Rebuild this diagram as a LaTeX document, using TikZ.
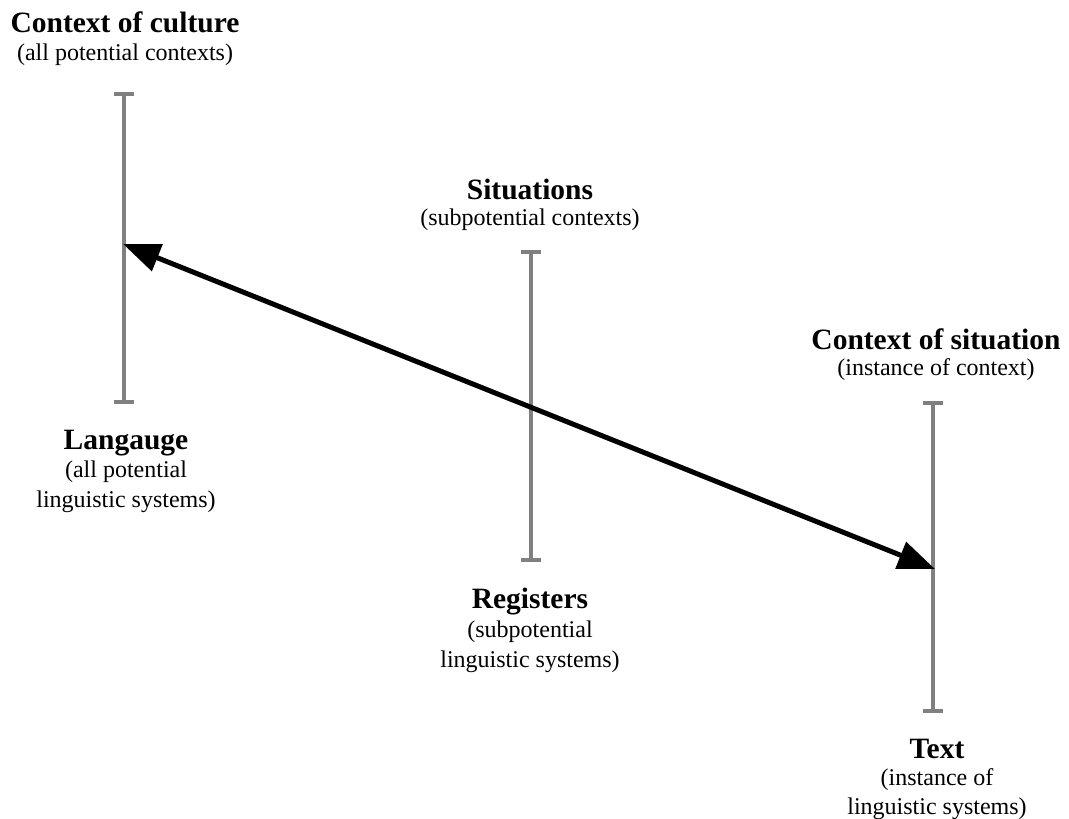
\documentclass[tikz,border=0pt]{standalone}
\usepackage{fontspec}
\setmainfont{Liberation Serif}
\usetikzlibrary{arrows.meta}
\begin{document}
\begin{tikzpicture}[x=1pt,y=-1pt,
  title/.style={font=\fontsize{29.5}{32}\selectfont\bfseries, inner sep=0pt},
  sub/.style={font=\fontsize{24}{29.5}\selectfont, align=center, inner sep=0pt},
  scalebar/.style={draw=black!50, line width=4pt, {Bar[width=20pt,line width=4pt]}-{Bar[width=20pt,line width=4pt]}},
  link/.style={draw=black, line width=5pt, {Triangle[length=37pt,width=28pt]}-{Triangle[length=37pt,width=28pt]}}]
\useasboundingbox (0,0) rectangle (1069,819);
% the three clines of instantiation
\coordinate (culTop) at (124,92);   \coordinate (culBot) at (124,404);
\coordinate (sitTop) at (531,250);  \coordinate (sitBot) at (531,562);
\coordinate (insTop) at (933,401);  \coordinate (insBot) at (933,713);
\draw[scalebar] (culTop) -- (culBot);
\draw[scalebar] (sitTop) -- (sitBot);
\draw[scalebar] (insTop) -- (insBot);
% labels
\node[title] (cc)  at (125,22) {Context of culture};
\node[sub]   (ccs) at (125,55) {(all potential contexts)};
\node[title] (si)  at (530,189) {Situations};
\node[sub]   (sis) at (530,220) {(subpotential contexts)};
\node[title] (cs)  at (936,339) {Context of situation};
\node[sub]   (css) at (936,370) {(instance of context)};
\node[title] (la)  at (126,443) {Langauge};
\node[sub, anchor=north] (las) at (126,461) {(all potential\\linguistic systems)};
\node[title] (re)  at (530,602) {Registers};
\node[sub, anchor=north] (res) at (530,621) {(subpotential\\linguistic systems)};
\node[title] (tx)  at (937,749) {Text};
\node[sub, anchor=north] (txs) at (937,768) {(instance of\\linguistic systems)};
% double-headed arrow between the clines
\coordinate (leftEnd) at (123,244);
\coordinate (rightEnd) at (935,569);
\draw[link] (leftEnd) -- (rightEnd);
\end{tikzpicture}
\end{document}
